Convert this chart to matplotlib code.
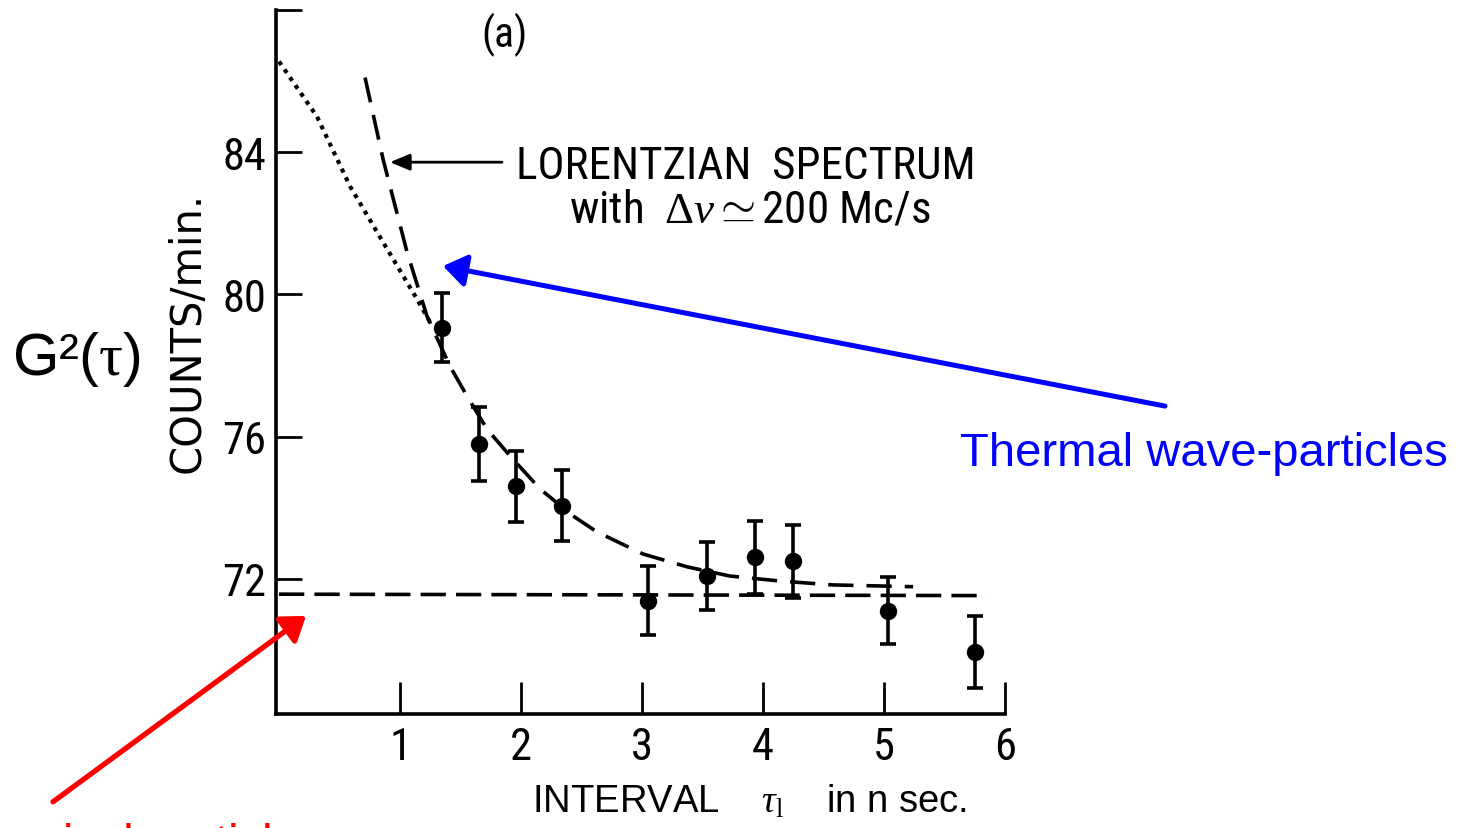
import matplotlib
matplotlib.use("Agg")
import matplotlib.pyplot as plt
from matplotlib import font_manager

# ---------------- data ----------------
tau = [1.345, 1.653, 1.959, 2.336, 3.05, 3.54, 3.93, 4.25, 5.03, 5.75]
counts = [79.07, 75.79, 74.60, 74.06, 71.39, 72.08, 72.61, 72.49, 71.11, 69.94]
count_err = [0.98, 1.05, 1.00, 1.00, 0.96, 0.96, 1.03, 1.03, 0.95, 1.02]

# Lorentzian fit curve (dashed)
lor_x = [0.711, 0.86, 1.058, 1.223, 1.413, 1.554, 1.719, 1.909, 2.157, 2.43,
         2.628, 3.008, 3.372, 3.727, 4.14, 4.579, 5.24]
lor_y = [86.10, 83.80, 81.19, 79.39, 77.98, 77.14, 76.21, 75.46, 74.53, 73.77,
         73.32, 72.70, 72.34, 72.08, 71.94, 71.83, 71.78]

# dotted extrapolation to tau = 0
dot_x = [0.0, 0.314, 0.587, 0.86, 1.14, 1.248]
dot_y = [86.55, 85.00, 83.04, 81.47, 79.87, 79.22]

# flat (uncorrelated) level
base_x = [0.0, 5.85]
base_y = [71.57, 71.53]

xticks = [1, 2, 3, 4, 5, 6]
xticklabels = ["1", "2", "3", "4", "5", "6"]
yticks = [72, 76, 80, 84, 88]
yticklabels = ["72", "76", "80", "84", ""]

# ---------------- styling ----------------
plt.rcParams["mathtext.fontset"] = "custom"
plt.rcParams["mathtext.rm"] = "Liberation Serif"
plt.rcParams["mathtext.it"] = "Liberation Serif:italic"
plt.rcParams["mathtext.bf"] = "Liberation Serif:bold"

# pick a condensed sans for the scanned lettering if one is installed
_names = {f.name for f in font_manager.fontManager.ttflist}
_cond = [n for n in ("DejaVu Sans Condensed", "Liberation Sans Narrow",
                     "Roboto Condensed", "Open Sans Condensed") if n in _names]
HAVE_COND = bool(_cond)
NARROW = (_cond[:1] if HAVE_COND else []) + ["DejaVu Sans"]
SCALE = 1.0 if HAVE_COND else 0.86
SANS = ["Liberation Sans", "DejaVu Sans"]

W, H = 1470, 829
fig = plt.figure(figsize=(W / 100, H / 100), dpi=100)
fig.patch.set_facecolor("white")

ax_left, ax_right, ax_top, ax_bottom = 276, 1005, 11, 715
ax = fig.add_axes([ax_left / W, 1 - ax_bottom / H,
                   (ax_right - ax_left) / W, (ax_bottom - ax_top) / H])
ax.set_xlim(-0.025, 6.0)
ax.set_ylim(68.2, 88.0)

for s in ("top", "right"):
    ax.spines[s].set_visible(False)
for s in ("left", "bottom"):
    ax.spines[s].set_linewidth(2.6)
    ax.spines[s].set_color("black")

ax.set_xticks(xticks)
ax.set_xticklabels(xticklabels, family=NARROW, fontsize=32 * SCALE)
ax.set_yticks(yticks)
ax.set_yticklabels(yticklabels, family=NARROW, fontsize=32 * SCALE)
ax.tick_params(axis="x", direction="in", length=23, width=2, pad=9, colors="black")
ax.tick_params(axis="y", direction="in", length=19, width=2, pad=7, colors="black")

# data with error bars
ax.errorbar(tau, counts, yerr=count_err, fmt="o", color="black", ms=11.5,
            capsize=6, elinewidth=2.6, capthick=2.6, zorder=5)

# Lorentzian dashed curve
ax.plot(lor_x, lor_y, color="black", lw=2.6, dashes=(7, 3.6), zorder=4)
# dotted extrapolation
ax.plot(dot_x, dot_y, color="black", lw=3.0, dashes=(1, 1.3), zorder=4)
# flat dashed level
ax.plot(base_x, base_y, color="black", lw=2.6, dashes=(7, 2.8), zorder=4)

# labels
ax.set_ylabel("COUNTS/min.", family=["DejaVu Sans"], fontsize=30, va="center")
ax.yaxis.set_label_coords((188 - ax_left) / (ax_right - ax_left),
                          (ax_bottom - 332) / (ax_bottom - ax_top))
ax.set_xlabel(r"INTERVAL    $\tau_{\mathrm{l}}$    in n sec.", family=SANS, fontsize=27.5,
              ha="left", va="baseline")
ax.xaxis.set_label_coords((532 - ax_left) / (ax_right - ax_left),
                          (ax_bottom - 813) / (ax_bottom - ax_top))

ax.text((505 - ax_left) / (ax_right - ax_left), (ax_bottom - 35) / (ax_bottom - ax_top),
        "(a)", transform=ax.transAxes, ha="center", va="center",
        family=NARROW, fontsize=30 * SCALE)

ax.text(1.959, 83.6, "LORENTZIAN  SPECTRUM", ha="left", va="center",
        family=NARROW, fontsize=32.5 * SCALE)
ax.text(3.89, 82.4, r"with  $\Delta\nu \simeq$200 Mc/s", ha="center", va="center",
        family=NARROW, fontsize=32.5 * SCALE)
ax.annotate("", xy=(0.917, 83.72), xytext=(1.843, 83.72),
            arrowprops=dict(arrowstyle="-|>,head_length=0.6,head_width=0.25",
                            color="black", lw=2, mutation_scale=20,
                            shrinkA=0, shrinkB=0))

# slide annotations
ax.annotate("", xy=(1.355, 80.8), xytext=(7.322, 76.86), annotation_clip=False,
            arrowprops=dict(arrowstyle="-|>,head_length=0.5,head_width=0.35",
                            color="#0000FF", lw=3.6, mutation_scale=28,
                            shrinkA=0, shrinkB=0))
ax.annotate("", xy=(0.223, 70.96), xytext=(-1.868, 65.73), annotation_clip=False,
            arrowprops=dict(arrowstyle="-|>,head_length=0.5,head_width=0.35",
                            color="#FF0000", lw=3.8, mutation_scale=28,
                            shrinkA=0, shrinkB=0))

fig.text(960 / W, 1 - 466 / H, "Thermal wave-particles", color="#0000FF",
         fontsize=34, family=SANS, ha="left", va="baseline")
fig.text(-55 / W, 1 - 857 / H, "Classical particles", color="#FF0000",
         fontsize=34, family=SANS, ha="left", va="baseline")
fig.text(12 / W, 1 - 375 / H, r"G²($\mathrm{\tau}$)", color="black",
         fontsize=43, family=SANS, ha="left", va="baseline")

fig.savefig("out.png", dpi=100)
